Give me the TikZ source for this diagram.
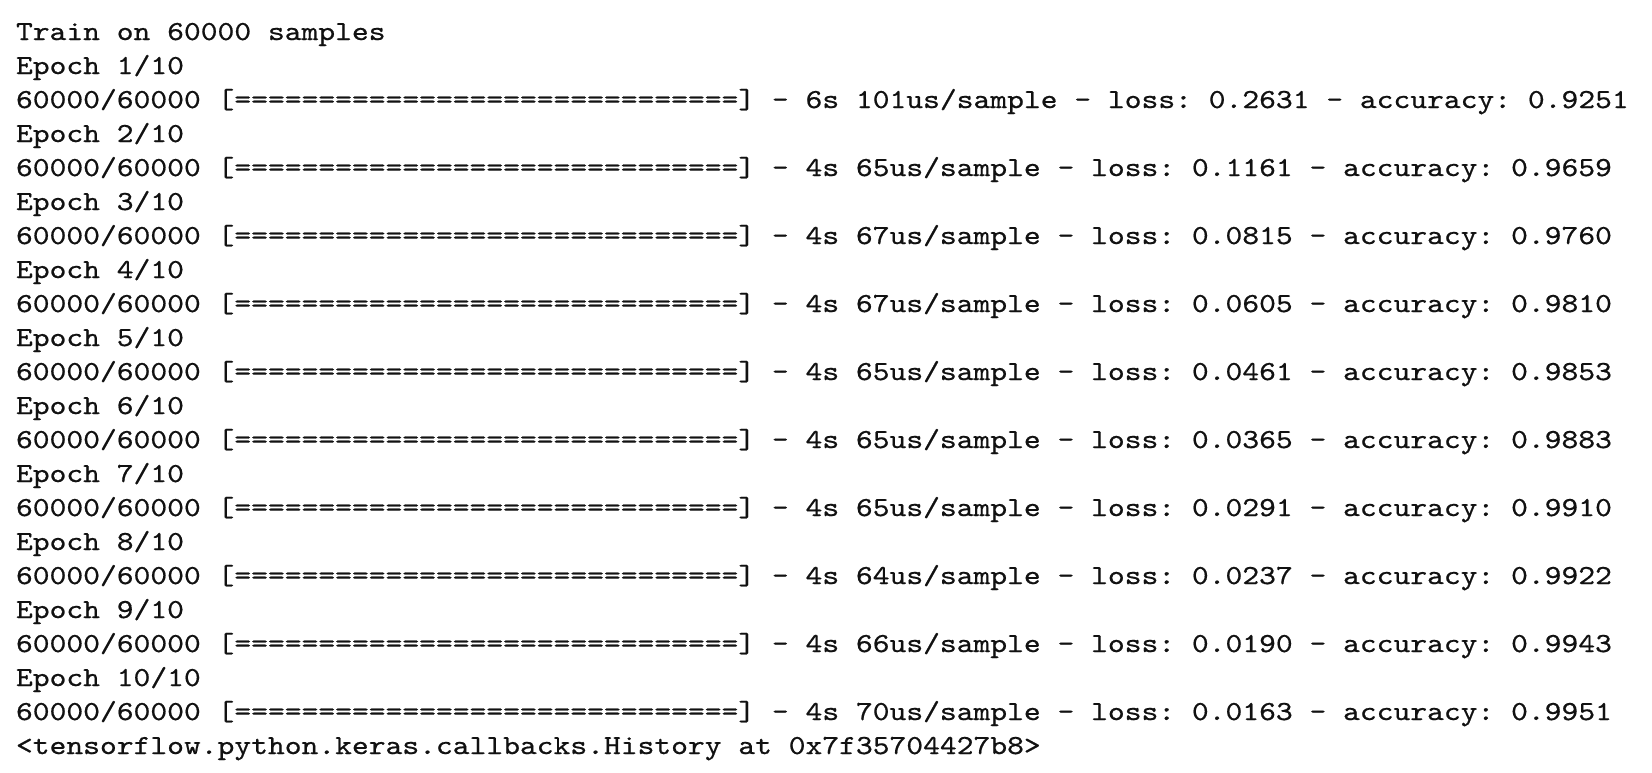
\documentclass[tikz,border=0pt]{standalone}
\usepackage{fontspec}
\newfontfamily\logfont{lmmono10-regular.otf}[FakeStretch=1.1636,FakeBold=0.6]
\definecolor{logtext}{HTML}{111111}
\tikzset{
  logline/.style={anchor=base west, inner sep=0pt, outer sep=0pt, text=logtext,
    font=\logfont\fontsize{27.5pt}{34pt}\selectfont\frenchspacing}
}
\begin{document}
\begin{tikzpicture}[x=1pt,y=1pt]
\useasboundingbox[fill=white] (0,0) rectangle (1652,-772);
\def\lx{16}
\node[logline] (l0) at (\lx,-40) {Train on 60000 samples};
\node[logline] (l1) at (\lx,-74) {Epoch 1/10};
\node[logline] (l2) at (\lx,-108) {60000/60000 [==============================] - 6s 101us/sample - loss: 0.2631 - accuracy: 0.9251};
\node[logline] (l3) at (\lx,-142) {Epoch 2/10};
\node[logline] (l4) at (\lx,-176) {60000/60000 [==============================] - 4s 65us/sample - loss: 0.1161 - accuracy: 0.9659};
\node[logline] (l5) at (\lx,-210) {Epoch 3/10};
\node[logline] (l6) at (\lx,-244) {60000/60000 [==============================] - 4s 67us/sample - loss: 0.0815 - accuracy: 0.9760};
\node[logline] (l7) at (\lx,-278) {Epoch 4/10};
\node[logline] (l8) at (\lx,-312) {60000/60000 [==============================] - 4s 67us/sample - loss: 0.0605 - accuracy: 0.9810};
\node[logline] (l9) at (\lx,-346) {Epoch 5/10};
\node[logline] (l10) at (\lx,-380) {60000/60000 [==============================] - 4s 65us/sample - loss: 0.0461 - accuracy: 0.9853};
\node[logline] (l11) at (\lx,-414) {Epoch 6/10};
\node[logline] (l12) at (\lx,-448) {60000/60000 [==============================] - 4s 65us/sample - loss: 0.0365 - accuracy: 0.9883};
\node[logline] (l13) at (\lx,-482) {Epoch 7/10};
\node[logline] (l14) at (\lx,-516) {60000/60000 [==============================] - 4s 65us/sample - loss: 0.0291 - accuracy: 0.9910};
\node[logline] (l15) at (\lx,-550) {Epoch 8/10};
\node[logline] (l16) at (\lx,-584) {60000/60000 [==============================] - 4s 64us/sample - loss: 0.0237 - accuracy: 0.9922};
\node[logline] (l17) at (\lx,-618) {Epoch 9/10};
\node[logline] (l18) at (\lx,-652) {60000/60000 [==============================] - 4s 66us/sample - loss: 0.0190 - accuracy: 0.9943};
\node[logline] (l19) at (\lx,-686) {Epoch 10/10};
\node[logline] (l20) at (\lx,-720) {60000/60000 [==============================] - 4s 70us/sample - loss: 0.0163 - accuracy: 0.9951};
\node[logline] (l21) at (\lx,-754) {<tensorflow.python.keras.callbacks.History at 0x7f35704427b8>};
\end{tikzpicture}
\end{document}
